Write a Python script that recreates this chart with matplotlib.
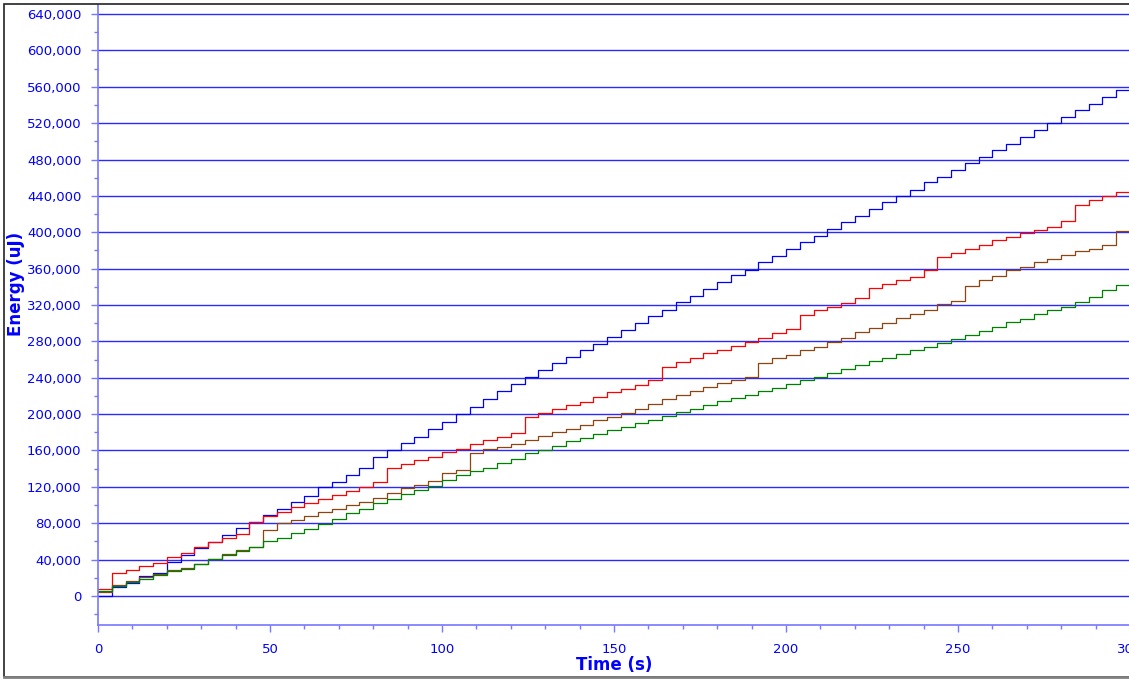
import numpy as np
import matplotlib
matplotlib.use("Agg")
import matplotlib.pyplot as plt
from matplotlib.ticker import MultipleLocator, FuncFormatter
from matplotlib.patches import Rectangle

# time grid (s), one sample per step
time = np.arange(0, 301, 4)

blue = [0, 10000, 14000, 22000, 25000, 37000, 45000, 53000, 59000, 67000,
        75000, 81000, 89000, 96000, 103000, 110000, 120000, 125000, 133000, 141000,
        153000, 160000, 168000, 175000, 184000, 191000, 200000, 208000, 217000, 225000,
        233000, 241000, 249000, 256000, 263000, 270000, 277000, 285000, 292000, 300000,
        308000, 315000, 323000, 330000, 338000, 345000, 353000, 359000, 367000, 374000,
        382000, 389000, 396000, 404000, 411000, 418000, 426000, 433000, 440000, 447000,
        455000, 461000, 468000, 476000, 483000, 490000, 497000, 505000, 512000, 520000,
        527000, 534000, 541000, 549000, 556000, 564000]

red = [8000, 25000, 28000, 33000, 36000, 43000, 47000, 54000, 59000, 64000,
       68000, 81000, 88000, 92000, 98000, 102000, 107000, 111000, 115000, 120000,
       125000, 141000, 145000, 149000, 153000, 158000, 162000, 167000, 171000, 175000,
       179000, 197000, 201000, 206000, 210000, 213000, 219000, 224000, 228000, 232000,
       237000, 252000, 257000, 262000, 267000, 270000, 275000, 279000, 284000, 289000,
       294000, 309000, 314000, 318000, 322000, 328000, 339000, 343000, 348000, 351000,
       358000, 373000, 377000, 382000, 386000, 391000, 395000, 399000, 402000, 406000,
       412000, 430000, 435000, 440000, 444000, 450000]

brown = [4000, 12000, 16000, 21000, 24000, 28000, 31000, 35000, 41000, 46000,
         50000, 54000, 73000, 80000, 84000, 88000, 92000, 96000, 100000, 103000,
         108000, 113000, 119000, 122000, 126000, 135000, 139000, 157000, 162000, 164000,
         167000, 172000, 176000, 180000, 184000, 188000, 193000, 197000, 201000, 206000,
         211000, 217000, 221000, 225000, 230000, 234000, 237000, 241000, 256000, 262000,
         265000, 270000, 274000, 279000, 284000, 290000, 295000, 300000, 306000, 310000,
         314000, 321000, 324000, 341000, 347000, 352000, 358000, 362000, 367000, 371000,
         375000, 379000, 382000, 386000, 401000, 404000]

green = [5000, 11000, 15000, 19000, 23000, 27000, 30000, 35000, 41000, 45000,
         49000, 54000, 60000, 64000, 69000, 74000, 79000, 85000, 91000, 96000,
         102000, 107000, 112000, 116000, 121000, 127000, 133000, 137000, 141000, 146000,
         151000, 157000, 160000, 165000, 170000, 174000, 178000, 182000, 186000, 190000,
         194000, 198000, 202000, 206000, 210000, 214000, 218000, 221000, 225000, 229000,
         233000, 237000, 241000, 245000, 250000, 254000, 258000, 262000, 266000, 270000,
         274000, 278000, 283000, 287000, 291000, 296000, 301000, 305000, 310000, 314000,
         318000, 323000, 329000, 336000, 342000, 350000]

series = [(blue, "#0000ff"), (red, "#ff0000"), (brown, "#8b4513"), (green, "#008000")]

axis_blue = "#0000ff"
spine_blue = "#7777ff"

fig = plt.figure(figsize=(11.29, 6.80), dpi=100)
ax = fig.add_axes([98 / 1129, 55 / 680, 1032 / 1129, 620 / 680])

for vals, col in series:
    ax.plot(time, vals, drawstyle="steps-post", color=col, lw=0.9)

ax.set_xlim(0, 300)
ax.set_ylim(-32000, 650000)

ax.xaxis.set_major_locator(MultipleLocator(50))
ax.xaxis.set_minor_locator(MultipleLocator(10))
ax.set_yticks(np.arange(0, 640001, 40000))
ax.yaxis.set_minor_locator(MultipleLocator(20000))
ax.yaxis.set_major_formatter(FuncFormatter(lambda v, p: f"{int(v):,}"))

ax.grid(axis="y", which="major", color="#2a2aff", lw=1.0)
ax.set_axisbelow(True)

for s in ["top", "right"]:
    ax.spines[s].set_visible(False)
for s in ["left", "bottom"]:
    ax.spines[s].set_color(spine_blue)
    ax.spines[s].set_linewidth(1.2)

ax.tick_params(which="major", direction="out", length=5, width=1, color=spine_blue,
               labelcolor=axis_blue, labelsize=9.5)
ax.tick_params(which="minor", direction="out", length=3, width=1, color=spine_blue)
ax.tick_params(axis="y", pad=7)
ax.tick_params(axis="x", pad=8)

ax.set_xlabel("Time (s)", color=axis_blue, fontsize=12, fontweight="bold")
ax.set_ylabel("Energy (uJ)", color=axis_blue, fontsize=12, fontweight="bold")
ax.yaxis.set_label_coords(-0.071, 0.55)
ax.xaxis.set_label_coords(0.5, -0.05)

# outer frame of the window
fig.patches.append(Rectangle((4 / 1129, 3 / 680), 1.2, 673 / 680, transform=fig.transFigure,
                             fill=False, edgecolor="#222222", lw=1.2))
fig.add_artist(plt.Line2D([4 / 1129, 1], [3 / 680, 3 / 680], transform=fig.transFigure,
                          color="#808080", lw=2))

fig.savefig("out.png", dpi=100)
